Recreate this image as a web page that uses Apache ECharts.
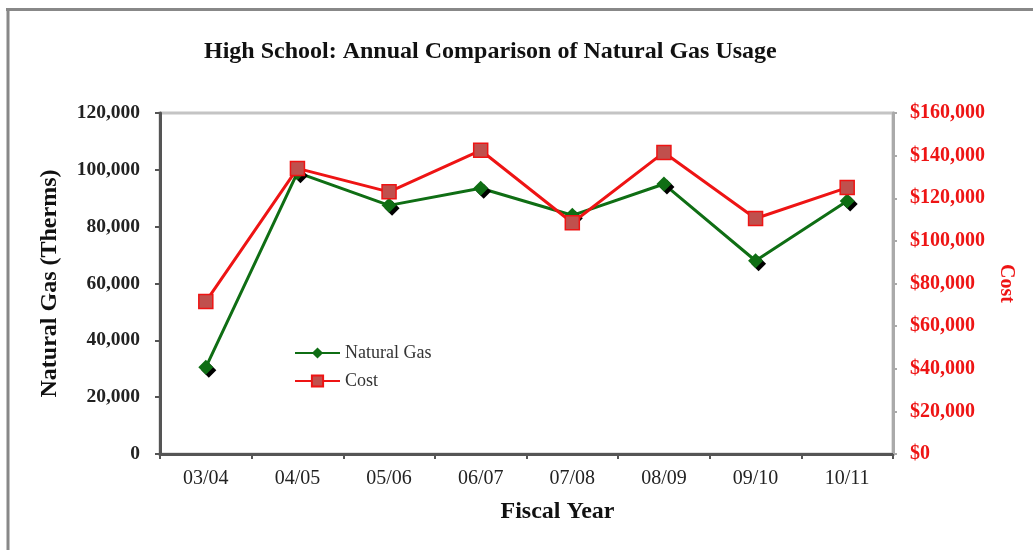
<!DOCTYPE html>
<html>
<head>
<meta charset="utf-8">
<script src="https://cdn.jsdelivr.net/npm/echarts@6/dist/echarts.min.js"></script>
<style>
  html, body { margin: 0; padding: 0; background: #fff; }
  #chart { width: 1033px; height: 550px; }
</style>
</head>
<body>
<div id="chart"></div>
<script>
// fiscal years
const years = ['03/04', '04/05', '05/06', '06/07', '07/08', '08/09', '09/10', '10/11'];
// therms
const gasUsage = [30500, 99000, 87500, 93500, 84000, 95000, 68000, 89000];
// dollars
const gasCost = [71500, 134000, 123000, 142500, 108500, 141500, 110500, 125000];

const serif = '"Liberation Serif", "DejaVu Serif", serif';
const green = '#0f6e14';
const red = '#ee1414';

const chart = echarts.init(document.getElementById('chart'));

const option = {
    backgroundColor: '#fff',
    animation: false,
    title: {
        text: 'High School: Annual Comparison of Natural Gas Usage',
        left: 199,
        top: 35,
        textStyle: {
            fontFamily: serif,
            fontWeight: 'bold',
            fontSize: 24,
            color: '#111',
        },
    },
    graphic: [
        // outer frame (top and left edges only)
        {
            type: 'line',
            shape: { x1: 6, y1: 9.5, x2: 1033, y2: 9.5 },
            style: { stroke: '#888', lineWidth: 3 },
        },
        {
            type: 'line',
            shape: { x1: 8, y1: 8, x2: 8, y2: 550 },
            style: { stroke: '#888', lineWidth: 3 },
        },
    ],
    legend: {
        left: 289,
        top: 339,
        orient: 'vertical',
        itemWidth: 45,
        itemHeight: 14,
        itemGap: 10,
        textStyle: {
            fontFamily: serif,
            fontSize: 18,
            color: '#333',
        },
        data: ['Natural Gas', 'Cost'],
    },
    grid: {
        left: 160,
        right: 140,
        top: 113,
        bottom: 96,
        show: true,
        borderColor: '#c4c4c4',
        borderWidth: 3,
    },
    xAxis: {
        type: 'category',
        data: years,
        boundaryGap: true,
        name: 'Fiscal Year',
        nameLocation: 'middle',
        nameGap: 46,
        nameTextStyle: {
            fontFamily: serif,
            fontWeight: 'bold',
            fontSize: 24,
            color: '#111',
            padding: [0, 0, 0, 62],
        },
        axisLine: { lineStyle: { color: '#555', width: 3 } },
        axisTick: { show: true, length: 5, lineStyle: { color: '#555', width: 2 } },
        axisLabel: {
            fontFamily: serif,
            fontSize: 20,
            color: '#222',
            margin: 15,
        },
    },
    yAxis: [
        {
            type: 'value',
            min: 0,
            max: 120000,
            interval: 20000,
            name: 'Natural Gas (Therms)',
            nameLocation: 'middle',
            nameRotate: 90,
            nameGap: 98,
            nameTextStyle: {
                fontFamily: serif,
                fontWeight: 'bold',
                fontSize: 24,
                color: '#111',
            },
            axisLine: { show: true, lineStyle: { color: '#555', width: 3 } },
            axisTick: { show: true, length: 5, lineStyle: { color: '#555', width: 2 } },
            axisLabel: {
                fontFamily: serif,
                fontWeight: 'bold',
                fontSize: 19.5,
                color: '#222',
                margin: 20,
                formatter: (v) => v.toLocaleString('en-US'),
            },
            splitLine: { show: false },
        },
        {
            type: 'value',
            min: 0,
            max: 160000,
            interval: 20000,
            position: 'right',
            name: 'Cost',
            nameLocation: 'middle',
            nameRotate: -90,
            nameGap: 102,
            nameTextStyle: {
                fontFamily: serif,
                fontWeight: 'bold',
                fontSize: 20,
                color: red,
            },
            axisLine: { show: true, lineStyle: { color: '#aaa', width: 3 } },
            axisTick: { show: true, length: 4, lineStyle: { color: '#aaa', width: 2 } },
            axisLabel: {
                fontFamily: serif,
                fontWeight: 'bold',
                fontSize: 20,
                color: red,
                margin: 17,
                formatter: (v) => '$' + v.toLocaleString('en-US'),
            },
            splitLine: { show: false },
        },
    ],
    series: [
        {
            name: 'Natural Gas',
            type: 'line',
            yAxisIndex: 0,
            data: gasUsage,
            symbol: 'diamond',
            symbolSize: [15, 15],
            z: 3,
            lineStyle: { color: green, width: 3 },
            itemStyle: {
                color: green,
                borderColor: green,
                borderWidth: 0,
                shadowColor: '#000',
                shadowOffsetX: 3,
                shadowOffsetY: 3,
                shadowBlur: 0,
            },
        },
        {
            name: 'Cost',
            type: 'line',
            yAxisIndex: 1,
            data: gasCost,
            symbol: 'rect',
            symbolSize: 14,
            z: 4,
            lineStyle: { color: red, width: 3 },
            itemStyle: {
                color: '#c0504d',
                borderColor: red,
                borderWidth: 1.5,
            },
        },
    ],
};

chart.setOption(option);
</script>
</body>
</html>
